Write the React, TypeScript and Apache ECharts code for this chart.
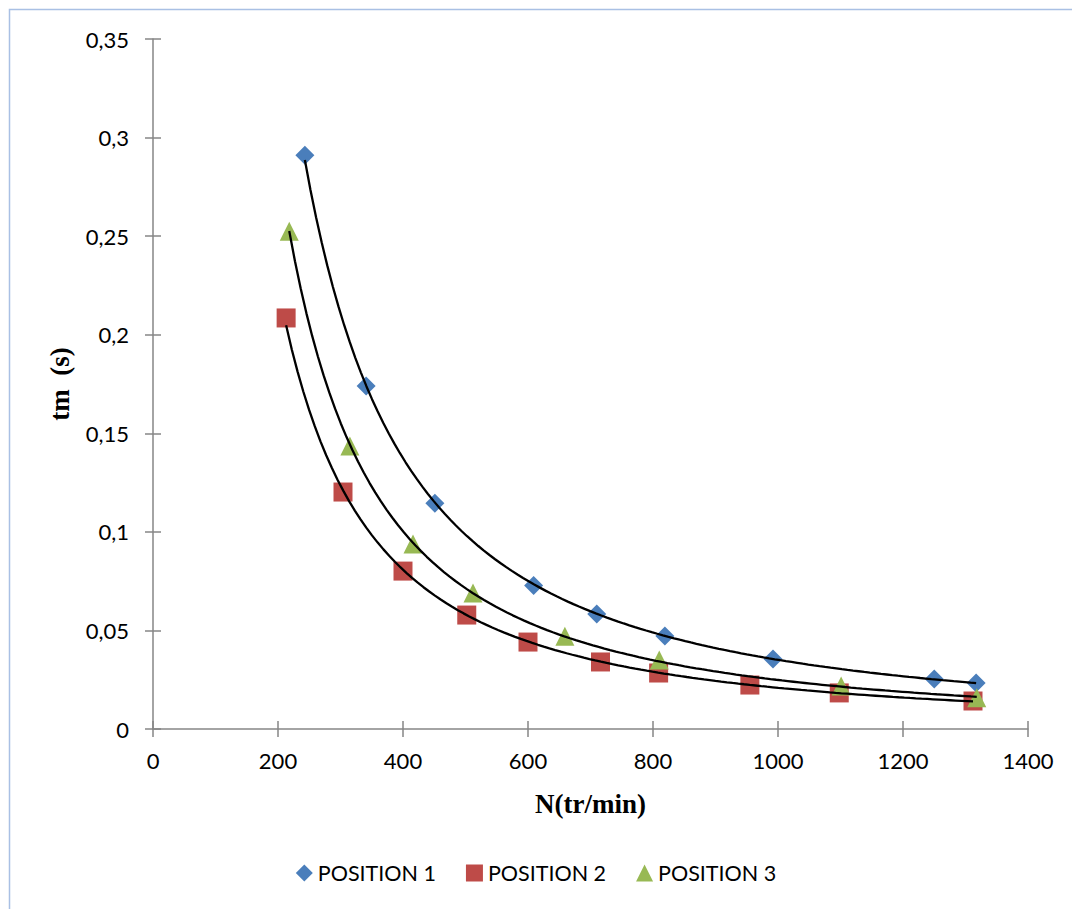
import React, { useEffect, useRef } from "react";
import * as echarts from "echarts";

// Rotation speed N (tr/min) and measured time tm (s) for three positions
const p1N = [243, 341, 451, 609, 710, 819, 992, 1250, 1317];
const p1T = [0.291, 0.174, 0.1145, 0.0728, 0.0583, 0.0472, 0.0355, 0.0254, 0.0233];

const p2N = [213, 304, 400, 502, 600, 716, 809, 955, 1098, 1312];
const p2T = [0.2085, 0.1202, 0.0801, 0.0578, 0.0441, 0.034, 0.0284, 0.0223, 0.0183, 0.0142];

const p3N = [218, 315, 416, 512, 659, 810, 1101, 1318];
const p3T = [0.2525, 0.1436, 0.0938, 0.069, 0.047, 0.035, 0.0218, 0.0159];

const seriesNames = ["POSITION 1", "POSITION 2", "POSITION 3"];
const colors = ["#4a7ebb", "#be4b48", "#98b954"];
const symbols = ["diamond", "rect", "triangle"];

const yTickLabels: Record<string, string> = {
  "0": "0",
  "0.05": "0,05",
  "0.1": "0,1",
  "0.15": "0,15",
  "0.2": "0,2",
  "0.25": "0,25",
  "0.3": "0,3",
  "0.35": "0,35",
};

// Least-squares power fit y = a * x^b in log-log space
function powerTrend(xs: number[], ys: number[], steps = 120): number[][] {
  const n = xs.length;
  let sx = 0, sy = 0, sxx = 0, sxy = 0;
  for (let i = 0; i < n; i++) {
    const lx = Math.log(xs[i]);
    const ly = Math.log(ys[i]);
    sx += lx; sy += ly; sxx += lx * lx; sxy += lx * ly;
  }
  const b = (n * sxy - sx * sy) / (n * sxx - sx * sx);
  const a = Math.exp((sy - b * sx) / n);
  const x0 = Math.min(...xs);
  const x1 = Math.max(...xs);
  const pts: number[][] = [];
  for (let i = 0; i <= steps; i++) {
    const x = x0 + ((x1 - x0) * i) / steps;
    pts.push([x, a * Math.pow(x, b)]);
  }
  return pts;
}

const zip = (xs: number[], ys: number[]) => xs.map((x, i) => [x, ys[i]]);

export default function App() {
  const ref = useRef<HTMLDivElement>(null);

  useEffect(() => {
    if (!ref.current) return;
    const chart = echarts.init(ref.current, null, { renderer: "svg" });
    const groups = [
      [p1N, p1T],
      [p2N, p2T],
      [p3N, p3T],
    ];
    const axisColor = "#868686";
    const labelFont = "Lato, 'Open Sans', sans-serif";
    const titleFont = "'Liberation Serif', 'Times New Roman', serif";

    const scatter = groups.map(([xs, ys], i) => ({
      name: seriesNames[i],
      type: "scatter",
      xAxisIndex: 0,
      yAxisIndex: 0,
      data: zip(xs, ys),
      symbol: symbols[i],
      symbolSize: 19,
      itemStyle: { color: colors[i], opacity: 1 },
      z: 2,
    }));
    const trends = groups.map(([xs, ys], i) => ({
      name: "trend" + i,
      type: "line",
      xAxisIndex: 0,
      yAxisIndex: 0,
      data: powerTrend(xs, ys),
      showSymbol: false,
      symbol: "none",
      lineStyle: { color: "#000", width: 2.3 },
      silent: true,
      z: 3,
    }));

    const baseX = {
      type: "value",
      min: 0,
      max: 1400,
      interval: 200,
      splitLine: { show: false },
    };
    const baseY = {
      type: "value",
      min: 0,
      max: 0.35,
      interval: 0.05,
      splitLine: { show: false },
    };

    chart.setOption({
      animation: false,
      backgroundColor: "#ffffff",
      grid: { left: 153, right: 44, top: 39, bottom: 180, containLabel: false },
      xAxis: [
        {
          ...baseX,
          position: "bottom",
          name: "N(tr/min)",
          nameLocation: "middle",
          nameGap: 61,
          nameTextStyle: {
            fontFamily: titleFont,
            fontWeight: "bold",
            fontSize: 27,
            color: "#000",
          },
          axisLine: { show: true, onZero: false, lineStyle: { color: axisColor, width: 1.5 } },
          axisTick: { show: true, inside: false, length: 8, lineStyle: { color: axisColor, width: 1.5 } },
          axisLabel: {
            fontSize: 22,
            color: "#000",
            fontFamily: labelFont,
            margin: 20,
            formatter: (v: number) => String(v),
          },
        },
        {
          ...baseX,
          position: "bottom",
          offset: 0,
          axisLine: { show: false, onZero: false },
          axisTick: { show: true, inside: true, length: 8, lineStyle: { color: axisColor, width: 1.5 } },
          axisLabel: { show: false },
        },
      ],
      yAxis: [
        {
          ...baseY,
          position: "left",
          name: "tm  (s)",
          nameLocation: "middle",
          nameGap: 80,
          nameRotate: 90,
          nameTextStyle: {
            fontFamily: titleFont,
            fontWeight: "bold",
            fontSize: 27,
            color: "#000",
          },
          axisLine: { show: true, onZero: false, lineStyle: { color: axisColor, width: 1.5 } },
          axisTick: { show: true, inside: false, length: 8, lineStyle: { color: axisColor, width: 1.5 } },
          axisLabel: {
            fontSize: 22,
            color: "#000",
            fontFamily: labelFont,
            margin: 24,
            formatter: (v: number) => yTickLabels[String(+v.toFixed(2))] ?? String(v).replace(".", ","),
          },
        },
        {
          ...baseY,
          position: "left",
          offset: 0,
          axisLine: { show: false, onZero: false },
          axisTick: { show: true, inside: true, length: 8, lineStyle: { color: axisColor, width: 1.5 } },
          axisLabel: { show: false },
        },
      ],
      legend: {
        data: seriesNames.map((n, i) => ({ name: n, icon: symbols[i] })),
        bottom: 20,
        left: "center",
        itemWidth: 17,
        itemHeight: 17,
        itemGap: 30,
        textStyle: { fontSize: 21.5, color: "#000", fontFamily: labelFont },
      },
      graphic: [
        {
          type: "polyline",
          shape: { points: [[9.5, 1000], [9.5, 9.5], [1100, 9.5]] },
          style: { stroke: "#a9c0e4", lineWidth: 1.5, fill: null },
          silent: true,
        },
      ],
      series: [...trends, ...scatter],
    });

    return () => chart.dispose();
  }, []);

  return (
    <div
      ref={ref}
      style={{ position: "absolute", left: 0, top: 0, width: 1072, height: 909 }}
    />
  );
}
